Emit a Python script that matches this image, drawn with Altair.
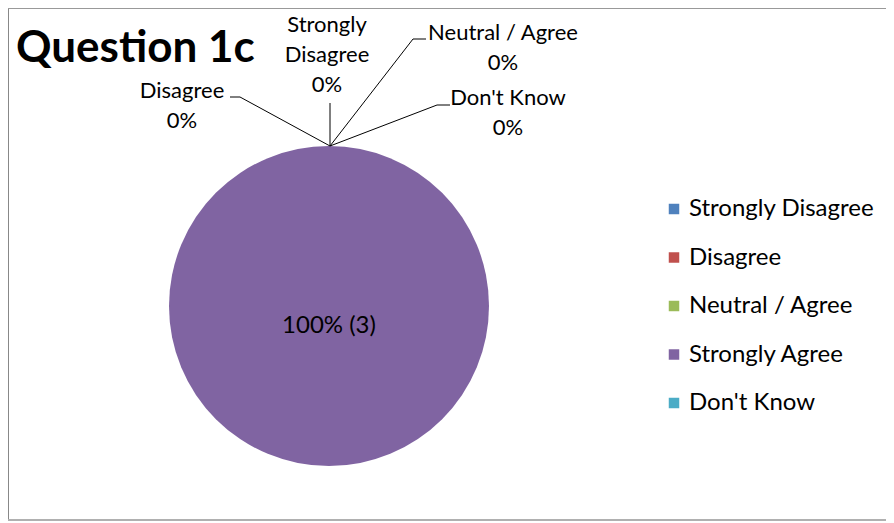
import altair as alt
import pandas as pd

# ---- data ----
categories = ["Strongly Disagree", "Disagree", "Neutral / Agree", "Strongly Agree", "Don't Know"]
counts = [0, 0, 0, 3, 0]
colors = ["#4F81BD", "#C0504D", "#9BBB59", "#8064A2", "#4BACC6"]
chart_title = "Question 1c"

# ---- layout (view pixels) ----
W, H = 878, 513
FONT = "Lato"
pie_cx, pie_cy, pie_r = 321, 298, 160
wrapped = {"Strongly Disagree": "Strongly\nDisagree"}
# centre of the first text line of each outside label
label_pos = {
    "Strongly Disagree": (319, 17),
    "Disagree": (174, 83),
    "Neutral / Agree": (495, 25),
    "Don't Know": (500, 90),
}
leader_paths = {
    "Strongly Disagree": [(322, 95), (322, 138)],
    "Disagree": [(222, 89), (232, 89), (322, 138)],
    "Neutral / Agree": [(418, 31), (405, 31), (322, 138)],
    "Don't Know": [(442, 97), (429, 97), (322, 138)],
}

df = pd.DataFrame({"category": categories, "count": counts, "order": range(len(categories))})
total = sum(counts)
df["pct"] = df["count"] / total

color_scale = alt.Scale(domain=categories, range=colors)

pie = alt.Chart(df).mark_arc(outerRadius=pie_r, stroke=None).encode(
    theta=alt.Theta("count:Q", stack=True),
    order=alt.Order("order:Q"),
    color=alt.Color(
        "category:N",
        scale=color_scale,
        sort=categories,
        legend=alt.Legend(
            orient="none", legendX=654, legendY=189, title=None,
            symbolType="square", symbolSize=110, symbolStrokeWidth=0,
            labelFont=FONT, labelFontSize=24, labelColor="#000000", labelLimit=0,
            labelOffset=3, rowPadding=24.5, padding=0,
        ),
    ),
    x=alt.value(pie_cx),
    y=alt.value(pie_cy),
)

# outside labels for zero slices
lab = df[df["count"] == 0].copy()
lab["name"] = [wrapped.get(c, c) for c in lab["category"]]
lab["lx"] = [label_pos[c][0] for c in lab["category"]]
lab["ly"] = [label_pos[c][1] for c in lab["category"]]

outside = alt.Chart(lab).transform_calculate(
    text="datum.name + '\\n' + format(datum.pct, '.0%')"
).mark_text(font=FONT, fontSize=22, lineBreak="\n", lineHeight=30,
            align="center", baseline="middle", color="#000000").encode(
    x=alt.X("lx:Q", scale=None),
    y=alt.Y("ly:Q", scale=None),
    text="text:N",
)

rows = []
for c, pts in leader_paths.items():
    for i, (px, py) in enumerate(pts):
        rows.append({"category": c, "seq": i, "px": px, "py": py})
leaders = alt.Chart(pd.DataFrame(rows)).mark_line(color="#000000", strokeWidth=1).encode(
    x=alt.X("px:Q", scale=None),
    y=alt.Y("py:Q", scale=None),
    detail="category:N",
    order="seq:Q",
)

inside = alt.Chart(df[df["count"] > 0]).transform_calculate(
    text="format(datum.pct, '.0%') + ' (' + datum.count + ')'"
).mark_text(font=FONT, fontSize=24, align="center", baseline="middle", color="#000000").encode(
    x=alt.value(321), y=alt.value(318), text="text:N"
)

title = alt.Chart(pd.DataFrame({"t": [chart_title]})).mark_text(
    font=FONT, fontSize=44, fontWeight="bold", align="left", baseline="alphabetic", color="#000000"
).encode(x=alt.value(8), y=alt.value(54), text="t:N")

border = alt.Chart(pd.DataFrame({
    "x": [0, 0, 0], "x2": [0, W, W], "y": [0, 0, H - 1], "y2": [H, 0, H - 1], "c": ["a", "b", "c"]
})).mark_rule(strokeWidth=2).encode(
    x=alt.X("x:Q", scale=None), x2="x2:Q", y=alt.Y("y:Q", scale=None), y2="y2:Q",
    color=alt.Color("c:N", scale=alt.Scale(domain=["a", "b", "c"], range=["#888888", "#999999", "#b0b0b0"]), legend=None),
)

chart = alt.layer(border, pie, leaders, outside, inside, title).resolve_scale(color="independent").properties(
    width=W, height=H, padding=0, autosize=alt.AutoSizeParams(type="none")
).configure_view(stroke=None)

chart.save("out.html", embed_options={"renderer": "svg", "actions": False})
